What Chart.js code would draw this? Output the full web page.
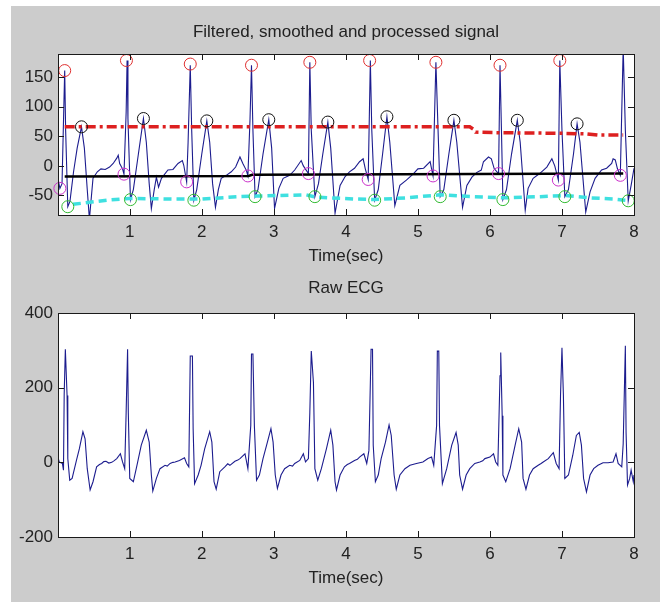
<!DOCTYPE html>
<html>
<head>
<meta charset="utf-8">
<script src="https://cdn.jsdelivr.net/npm/chart.js@4"></script>
<style>
  html, body { margin: 0; padding: 0; background: #ffffff; }
  #wrap { position: relative; width: 665px; height: 602px; overflow: hidden; background: #ffffff; }
  #fig { position: absolute; left: 11px; top: 6px; width: 649px; height: 596px; background: #cccccc; }
  canvas { position: absolute; left: 0; }
  #c1 { top: 0; }
  #c2 { top: 272px; }
</style>
</head>
<body>
<div id="wrap">
  <div id="fig"></div>
  <canvas id="c1" width="665" height="272"></canvas>
  <canvas id="c2" width="665" height="330"></canvas>
</div>
<script>
// ---------- Texts ----------
const topTitle = "Filtered, smoothed and processed signal";
const bottomTitle = "Raw ECG";
const xTitle = "Time(sec)";

// ---------- Tick labels ----------
const xTicks = [1, 2, 3, 4, 5, 6, 7, 8];
const topYTicks = [-50, 0, 50, 100, 150];
const bottomYTicks = [-200, 0, 200, 400];

// ---------- Filtered, smoothed signal (time s, amplitude) ----------
const filtT = [0.004,0.03,0.06,0.085,0.097,0.11,0.14,0.17,0.22,0.27,0.33,0.37,0.41,0.44,0.49,0.55,0.60,0.66,0.72,0.77,0.82,0.84,0.86,0.90,0.92,0.95,0.963,0.975,1.01,1.05,1.12,1.19,1.23,1.27,1.30,1.34,1.37,1.40,1.44,1.53,1.60,1.67,1.73,1.75,1.79,1.81,1.84,1.86,1.89,1.93,2.00,2.07,2.11,2.15,2.19,2.23,2.27,2.34,2.41,2.47,2.53,2.57,2.62,2.64,2.67,2.69,2.71,2.74,2.78,2.85,2.93,2.97,3.01,3.07,3.13,3.22,3.29,3.38,3.41,3.48,3.50,3.52,3.57,3.62,3.68,3.75,3.79,3.85,3.92,3.99,4.05,4.12,4.19,4.24,4.27,4.31,4.34,4.36,4.40,4.45,4.51,4.57,4.61,4.68,4.75,4.84,4.94,5.00,5.08,5.17,5.19,5.21,5.25,5.28,5.31,5.36,5.43,5.50,5.54,5.62,5.68,5.75,5.82,5.88,5.91,5.98,6.02,6.06,6.12,6.14,6.16,6.18,6.23,6.30,6.38,6.42,6.49,6.53,6.60,6.69,6.79,6.86,6.90,6.95,6.97,7.00,7.04,7.09,7.16,7.21,7.25,7.33,7.39,7.46,7.55,7.62,7.69,7.71,7.74,7.77,7.81,7.85,7.88,7.92,7.96,8.00];
const filtV = [-22,-38,-30,100,161,60,-69,-60,-10,30,66,30,-40,-90,-21,-10,-5,-6,-2,4,13,18,4,-5,-14,90,178,80,-57,-40,20,80,40,-30,-72,-40,-19,-36,-21,-7,-6,4,9,1,-27,40,170,60,-58,-40,20,76,40,-30,-70,-40,-21,-16,-10,-2,15,4,-8,-17,80,170,60,-52,-40,20,78,30,-72,-38,-21,-16,-7,9,0,-13,175,60,-52,-30,20,74,30,-80,-33,-18,-10,-4,7,12,-5,-23,178,60,-58,-40,20,83,40,-67,-33,-24,-13,-5,-4,7,-5,-17,175,60,-52,-40,20,77,40,-70,-33,-19,-11,-7,7,15,12,-5,-13,170,60,-57,-40,20,77,40,-75,-38,-21,-13,-2,12,0,-24,178,60,-52,-40,20,71,40,-78,-44,-21,-7,-4,4,12,10,-5,-16,200,60,-59,-33,-4];

// ---------- Detection thresholds ----------
const redThrT = [0.097, 5.72, 5.77, 5.80, 6.14, 7.00, 7.35, 7.50, 7.85];
const redThrV = [66, 66, 62, 57, 56, 55, 54, 52, 52];
const blackThrT = [0.097, 2.65, 2.70, 7.85];
const blackThrV = [-18, -17, -15, -13];
const cyanThrT = [0.21, 0.68, 1.00, 1.60, 2.00, 2.53, 2.76, 3.45, 3.59, 4.14, 4.40, 4.84, 5.30, 5.77, 6.19, 6.69, 7.04, 7.39, 7.71, 7.88];
const cyanThrV = [-65, -58, -55, -56, -56, -52, -51, -49, -53, -56, -57, -54, -49, -52, -54, -52, -50, -54, -56, -58];

// ---------- Detected points ----------
const rPeakT = [0.097, 0.954, 1.84, 2.69, 3.50, 4.33, 5.25, 6.14, 6.97];
const rPeakV = [161, 178, 172, 170, 175, 178, 175, 170, 178];
const tPeakT = [0.33, 1.19, 2.07, 2.93, 3.75, 4.57, 5.50, 6.38, 7.21];
const tPeakV = [66, 80, 76, 78, 74, 83, 77, 77, 71];
const qPointT = [0.03, 0.92, 1.79, 2.64, 3.48, 4.31, 5.21, 6.12, 6.95, 7.81];
const qPointV = [-38, -14, -27, -17, -13, -23, -17, -13, -24, -16];
const sPointT = [0.14, 1.01, 1.89, 2.74, 3.57, 4.40, 5.31, 6.18, 7.04, 7.92];
const sPointV = [-69, -57, -58, -52, -52, -58, -52, -57, -52, -59];

// ---------- Raw ECG ----------
const rawT = [0.004,0.02,0.065,0.08,0.09,0.106,0.13,0.14,0.167,0.20,0.26,0.30,0.35,0.38,0.41,0.45,0.49,0.54,0.58,0.61,0.64,0.67,0.71,0.75,0.78,0.82,0.87,0.90,0.93,0.95,0.97,0.98,1.00,1.05,1.10,1.16,1.23,1.27,1.30,1.32,1.37,1.42,1.49,1.52,1.56,1.60,1.63,1.69,1.76,1.79,1.82,1.84,1.87,1.88,1.90,1.95,1.99,2.04,2.11,2.14,2.17,2.20,2.25,2.32,2.36,2.39,2.46,2.50,2.53,2.60,2.64,2.68,2.69,2.71,2.73,2.76,2.80,2.85,2.90,2.96,2.99,3.02,3.05,3.10,3.15,3.22,3.26,3.29,3.36,3.41,3.44,3.48,3.50,3.52,3.55,3.57,3.61,3.66,3.73,3.79,3.82,3.85,3.87,3.92,3.98,4.02,4.05,4.12,4.16,4.19,4.25,4.29,4.32,4.35,4.37,4.38,4.41,4.45,4.49,4.55,4.60,4.63,4.67,4.70,4.75,4.82,4.89,4.98,5.07,5.14,5.19,5.22,5.26,5.27,5.29,5.30,5.34,5.40,5.47,5.53,5.56,5.58,5.62,5.67,5.72,5.79,5.86,5.90,5.93,6.00,6.05,6.08,6.11,6.14,6.15,6.17,6.18,6.22,6.28,6.35,6.40,6.44,6.46,6.50,6.55,6.60,6.67,6.71,6.74,6.81,6.88,6.92,6.96,6.98,7.00,7.02,7.04,7.09,7.15,7.20,7.24,7.27,7.30,7.34,7.39,7.44,7.50,7.57,7.64,7.71,7.75,7.78,7.83,7.85,7.88,7.89,7.91,7.94,7.96,7.99,8.00];
const rawV = [14,1,-3,-21,183,303,179,10,-48,-43,5,36,82,63,-17,-74,-52,-12,-6,-3,2,3,-2,0,4,10,23,1,-17,134,303,134,-43,-52,-8,46,86,54,-34,-77,-43,-17,-8,-10,-3,0,1,5,12,-3,-12,285,285,90,-57,-34,-8,36,82,54,-52,-72,-25,-12,-4,-8,3,6,10,23,-17,99,290,290,99,-48,-34,10,46,90,54,-34,-70,-34,-17,-8,-10,-3,5,23,1,10,134,298,214,-17,-48,-17,36,86,46,-52,-74,-34,-12,-6,-3,5,8,14,23,-3,32,303,303,46,-52,-34,10,54,100,72,-34,-72,-34,-17,-8,-3,1,10,14,-8,99,298,298,99,-57,-17,46,80,46,-34,-72,-34,-17,-3,1,4,10,14,23,1,-8,232,294,125,-34,-52,-17,46,90,54,-43,-72,-34,-17,-8,-3,1,10,26,-3,-17,179,307,179,-43,-34,19,72,80,46,-43,-79,-34,-17,-8,-1,-1,1,23,-3,-12,50,312,80,-61,-43,-21,-52,-34];

// ---------- helpers ----------
const pts = (ts, vs) => ts.map((t, i) => ({ x: t, y: vs[i] }));
const FONT = "'Liberation Sans', Arial, Helvetica, sans-serif";
const FSIZE = 17;
const TXT = '#222222';

const matlabAxes = {
  id: 'matlabAxes',
  beforeDraw(chart) {
    const { ctx, chartArea: a } = chart;
    ctx.save();
    ctx.fillStyle = '#ffffff';
    ctx.fillRect(a.left, a.top, a.right - a.left, a.bottom - a.top);
    ctx.restore();
  },
  afterDatasetsDraw(chart) {
    const { ctx, chartArea: a, scales } = chart;
    const L = 6;
    ctx.save();
    ctx.strokeStyle = '#1a1a1a';
    ctx.lineWidth = 1;
    ctx.beginPath();
    scales.x.ticks.forEach(t => {
      const px = Math.round(scales.x.getPixelForValue(t.value)) + 0.5;
      ctx.moveTo(px, a.bottom); ctx.lineTo(px, a.bottom - L);
      ctx.moveTo(px, a.top); ctx.lineTo(px, a.top + L);
    });
    scales.y.ticks.forEach(t => {
      const py = Math.round(scales.y.getPixelForValue(t.value)) + 0.5;
      ctx.moveTo(a.left, py); ctx.lineTo(a.left + L, py);
      ctx.moveTo(a.right, py); ctx.lineTo(a.right - L, py);
    });
    ctx.stroke();
    ctx.strokeRect(Math.round(a.left) + 0.5, Math.round(a.top) + 0.5,
                   Math.round(a.right - a.left), Math.round(a.bottom - a.top));
    ctx.restore();
  }
};

function axisOpts(cfg) {
  return {
    x: {
      type: 'linear', min: 0.004, max: 8,
      afterBuildTicks: s => { s.ticks = xTicks.map(v => ({ value: v })); },
      afterFit: s => { s.height = cfg.xHeight; },
      grid: { display: false, drawTicks: false },
      border: { display: false },
      ticks: { padding: cfg.xTickPad, color: TXT, font: { family: FONT, size: FSIZE }, maxRotation: 0, autoSkip: false },
      title: { display: true, text: xTitle, color: TXT, font: { family: FONT, size: FSIZE }, padding: { top: 0, bottom: cfg.xTitlePad } }
    },
    xTop: {
      type: 'linear', position: 'top', min: 0.004, max: 8,
      afterFit: s => { s.height = cfg.topHeight; },
      grid: { display: false, drawTicks: false },
      border: { display: false },
      ticks: { display: false },
      title: { display: true, text: cfg.title, color: TXT, font: { family: FONT, size: FSIZE }, padding: { top: cfg.titlePad, bottom: 0 } }
    },
    y: {
      type: 'linear', min: cfg.yMin, max: cfg.yMax,
      afterBuildTicks: s => { s.ticks = cfg.yTicks.map(v => ({ value: v })); },
      afterFit: s => { s.width = 58; },
      grid: { display: false, drawTicks: false },
      border: { display: false },
      ticks: { padding: 5, color: TXT, font: { family: FONT, size: FSIZE } }
    }
  };
}

const SIG = '#1c1c8e';

new Chart(document.getElementById('c1'), {
  type: 'line',
  data: {
    datasets: [
      { data: pts(filtT, filtV), borderColor: SIG, borderWidth: 1.1, pointRadius: 0, tension: 0, order: 10 },
      { data: pts(redThrT, redThrV), borderColor: '#dd2020', borderWidth: 3.5, borderDash: [10, 4, 3, 4], pointRadius: 0, tension: 0, order: 5 },
      { data: pts(blackThrT, blackThrV), borderColor: '#000000', borderWidth: 2.5, pointRadius: 0, tension: 0, order: 5 },
      { data: pts(cyanThrT, cyanThrV), borderColor: '#3fe0e0', borderWidth: 3.5, borderDash: [8, 5], pointRadius: 0, tension: 0, order: 5 },
      { data: pts(rPeakT, rPeakV), showLine: false, pointStyle: 'circle', pointRadius: 6, pointBorderWidth: 1, pointBorderColor: '#e03030', pointBackgroundColor: 'rgba(0,0,0,0)', order: 1, clip: false },
      { data: pts(tPeakT, tPeakV), showLine: false, pointStyle: 'circle', pointRadius: 6, pointBorderWidth: 1, pointBorderColor: '#111111', pointBackgroundColor: 'rgba(0,0,0,0)', order: 1, clip: false },
      { data: pts(qPointT, qPointV), showLine: false, pointStyle: 'circle', pointRadius: 6, pointBorderWidth: 1, pointBorderColor: '#cc33cc', pointBackgroundColor: 'rgba(0,0,0,0)', order: 1, clip: false },
      { data: pts(sPointT, sPointV), showLine: false, pointStyle: 'circle', pointRadius: 6, pointBorderWidth: 1, pointBorderColor: '#33bb33', pointBackgroundColor: 'rgba(0,0,0,0)', order: 1, clip: false }
    ]
  },
  options: {
    responsive: false, animation: false, events: [],
    layout: { padding: { left: 0, right: 31, top: 0, bottom: 0 } },
    plugins: { legend: { display: false }, tooltip: { enabled: false } },
    scales: axisOpts({ xHeight: 57, xTickPad: 7, xTitlePad: 5, topHeight: 54, title: topTitle, titlePad: 21.8,
                       yMin: -83, yMax: 189, yTicks: topYTicks })
  },
  plugins: [matlabAxes]
});

new Chart(document.getElementById('c2'), {
  type: 'line',
  data: {
    datasets: [
      { data: pts(rawT, rawV), borderColor: SIG, borderWidth: 1.1, pointRadius: 0, tension: 0 }
    ]
  },
  options: {
    responsive: false, animation: false, events: [],
    layout: { padding: { left: 0, right: 31, top: 0, bottom: 0 } },
    plugins: { legend: { display: false }, tooltip: { enabled: false } },
    scales: axisOpts({ xHeight: 65, xTickPad: 7.5, xTitlePad: 13.5, topHeight: 41, title: bottomTitle, titlePad: 5.8,
                       yMin: -200, yMax: 400, yTicks: bottomYTicks })
  },
  plugins: [matlabAxes]
});
</script>
</body>
</html>
